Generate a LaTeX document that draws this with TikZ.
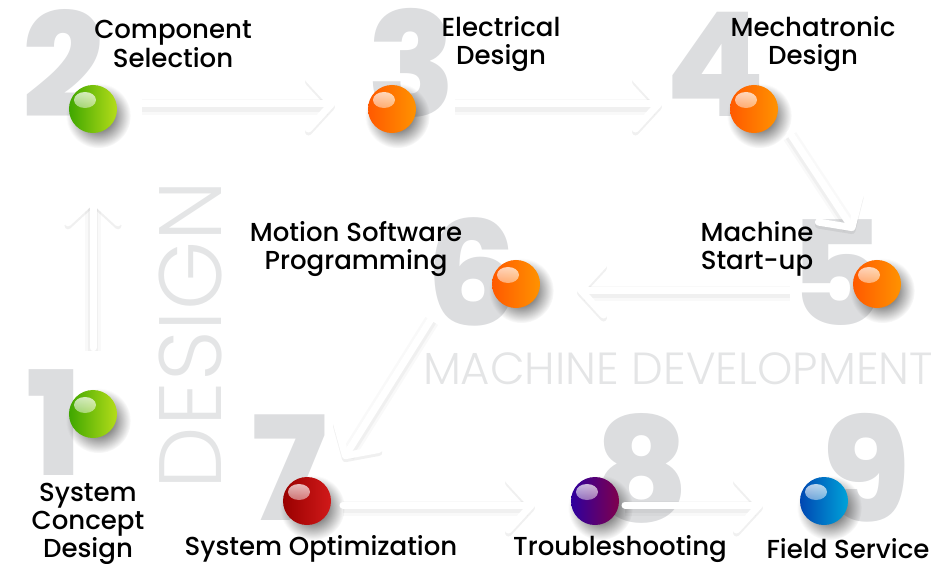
\documentclass[tikz,border=0pt]{standalone}
\usepackage{fontspec}
\usepackage{tikz}
\usetikzlibrary{arrows.meta,shadows,fadings}
\setmainfont{Poppins Medium}
\newfontfamily\numfont{Poppins ExtraBold}
\newfontfamily\thinfont{Poppins Light}
\def\px{0.7113pt}
\definecolor{numgray}{HTML}{DCDDDF}
\definecolor{wordgray}{HTML}{E4E5E6}
\tikzfading[name=softball, inner color=transparent!0, middle color=transparent!25, outer color=transparent!100]
\tikzset{
	x=0.025cm, y=-0.025cm,
	>={Straight Barb[length=23*\px,width=50*\px,line width=7*\px,round,sep=20*\px]},
	flow/.style={ % white arrow with a soft shadow under it
		->, draw=white, line width=7*\px, line cap=round,
		preaction={draw=black, opacity=.025, line width=15*\px, transform canvas={yshift=-3*\px}},
		preaction={draw=black, opacity=.035, line width=10*\px, transform canvas={yshift=-3*\px}},
	},
	ball/.style 2 args={
		circle, minimum size=48*\px, inner sep=0pt, left color=#1, right color=#2,
		general shadow={fill=black!85, shadow xshift=4*\px, shadow yshift=-5*\px, shadow scale=1.35, path fading=softball},
		path picture={
			\fill[white, opacity=.85, path fading=south, rotate around={30:(path picture bounding box.center)}]
				([xshift=-8*\px,yshift=9*\px]path picture bounding box.center) ellipse [x radius=11*\px, y radius=8*\px];
		},
	},
	greenball/.style={ball={green!45!olive!90!black}{lime!70!olive!90}},
	orangeball/.style={ball={orange!70!red}{orange!85!yellow}},
	num/.style={text=numgray, inner sep=0pt, font=\numfont\fontsize{103}{103}\selectfont},
	word/.style={text=wordgray, inner sep=0pt, font=\thinfont\fontsize{32}{32}\selectfont},
	steptext/.style={text=black, inner sep=0pt, align=center, font=\fontsize{18.5}{20}\selectfont},
}

\begin{document}
\begin{tikzpicture}
	\useasboundingbox (0,0) rectangle (938,564);

	% numbers and words at the back
	\node[num] (n1) at (55,423) {1};
	\node[num] (n2) at (64,63) {2};
	\node[num] (n3) at (412,63) {3};
	\node[num] (n4) at (716,64) {4};
	\node[num] (n5) at (837,273) {5};
	\node[num] (n6) at (472,272) {6};
	\node[num] (n7) at (289,468) {7};
	\node[num] (n8) at (642,468) {8};
	\node[num] (n9) at (866,468) {9};
	\node[word, rotate=90, font=\thinfont\fontsize{63}{63}\selectfont] (design) at (190,335) {DESIGN};
	\node[word] (machinedev) at (678,369) {MACHINE DEVELOPMENT};

	% balls
	\node[greenball] (concept) at (93,414) {};
	\node[greenball] (selection) at (93,109) {};
	\node[orangeball] (electrical) at (392,109) {};
	\node[orangeball] (mechatronic) at (754,109) {};
	\node[orangeball] (startup) at (877,284) {};
	\node[orangeball] (motion) at (516,284) {};
	\node[ball={red!60!black}{red!80!black!90}] (optimization) at (307,501) {};
	\node[ball={blue!55!violet!80!black}{violet!75!red!80!black}] (trouble) at (595,501) {};
	\node[ball={blue!60!cyan!70!black}{cyan!75!blue!85!black}] (service) at (824,501) {};

	% arrows
	\draw[flow, shorten <=42*\px, shorten >=43*\px] (concept) -- (selection);
	\draw[flow, shorten <=49*\px, shorten >=37*\px] ([yshift=5*\px]selection.center) -- ([yshift=5*\px]electrical.center);
	\draw[flow, shorten <=63*\px, shorten >=72*\px] ([yshift=5*\px]electrical.center) -- ([yshift=5*\px]mechatronic.center);
	\draw[flow, shorten <=29*\px, shorten >=44*\px] ([xshift=20*\px]mechatronic.center) -- ([xshift=12*\px]startup.center);
	\draw[flow, shorten <=87*\px, shorten >=41*\px] ([yshift=-6*\px]startup.center) -- ([yshift=-6*\px]motion.center);
	\draw[flow, shorten <=40*\px, shorten >=30*\px] ([xshift=-63*\px]motion.center) -- ([xshift=10*\px]optimization.center);
	\draw[flow, shorten <=36*\px, shorten >=40*\px] ([yshift=-4*\px]optimization.center) -- ([yshift=-4*\px]trouble.center);
	\draw[flow, shorten <=30*\px, shorten >=41*\px] ([yshift=-4*\px]trouble.center) -- ([yshift=-4*\px]service.center);

	% labels
	\node[steptext] (concepttext) at (88,524) {System\\Concept\\Design};
	\node[steptext] (selectiontext) at (173,44) {Component\\Selection};
	\node[steptext] (electricaltext) at (501,44) {Electrical\\Design};
	\node[steptext] (mechatronictext) at (813,44) {Mechatronic\\Design};
	\node[steptext] (startuptext) at (757,249) {Machine\\Start-up};
	\node[steptext] (motiontext) at (356,249) {Motion Software\\Programming};
	\node[steptext] (optimizationtext) at (321,549) {System Optimization};
	\node[steptext] (troubletext) at (620,549) {Troubleshooting};
	\node[steptext] (servicetext) at (848,549) {Field Service};
\end{tikzpicture}
\end{document}
